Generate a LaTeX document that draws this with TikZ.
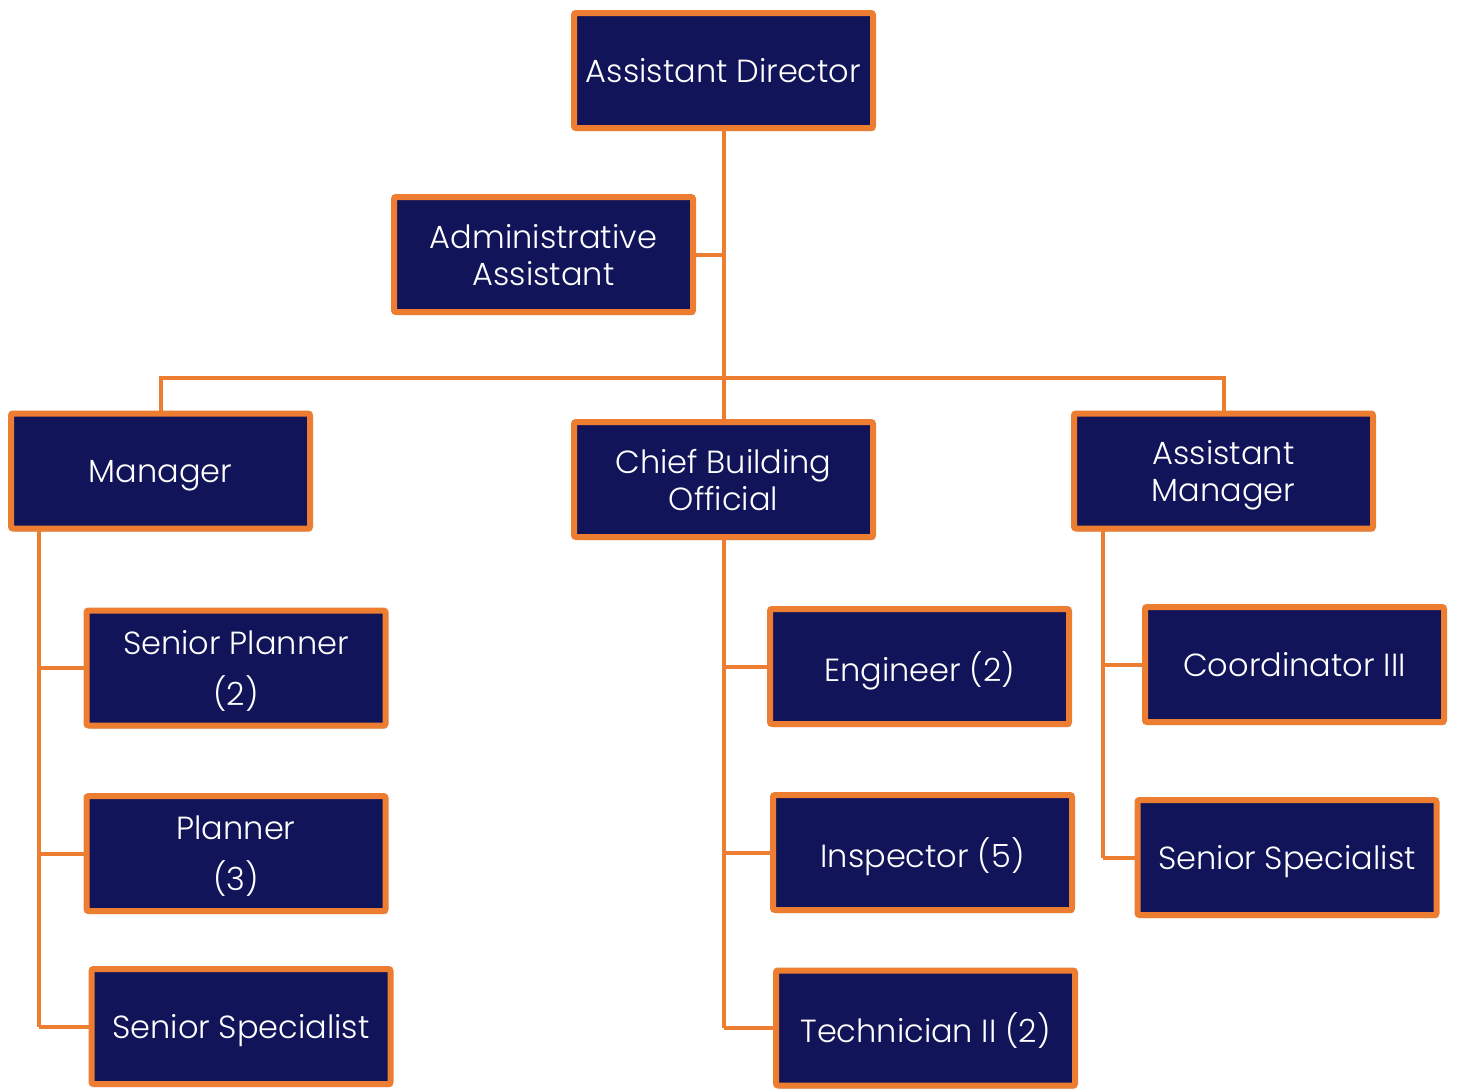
\documentclass[tikz,border=0pt]{standalone}
\usepackage{fontspec}
\setmainfont{Poppins}[UprightFont=* Light]
\usetikzlibrary{shadows}
\definecolor{navy}{HTML}{121459}
\definecolor{orangeline}{HTML}{ED7D31}
\begin{document}
\begin{tikzpicture}[x=0.5pt,y=-0.5pt,
  role/.style={draw=orangeline, line width=3pt, fill=navy, text=white,
    rounded corners=1pt,
    minimum width=149.5pt, minimum height=57.5pt, inner sep=0pt,
    text depth=0pt, align=center, font=\fontsize{16}{18.5}\selectfont,
    drop shadow={shadow xshift=1pt, shadow yshift=-1.5pt, opacity=0.25, fill=black}},
  tall/.style={font=\fontsize{16}{25.5}\selectfont},
  link/.style={draw=orangeline, line width=2pt}]
\useasboundingbox (0,0) rectangle (1457,1089);

% top of the chart
\node[role] (ad)  at (723.5,70.5)  {Assistant Director};
\node[role] (adm) at (543.5,254.5) {Administrative\\Assistant};

% second level
\node[role] (mgr) at (160.5,471)   {Manager};
\node[role] (cbo) at (723.5,479.5) {Chief Building\\Official};
\node[role] (am)  at (1223.5,471)  {Assistant\\Manager};

% under the manager
\node[role,tall] (sp)  at (236,668)    {Senior Planner\\(2)};
\node[role,tall] (pl)  at (236,853.5)  {Planner\\(3)};
\node[role]      (ss1) at (241,1026.5) {Senior Specialist};

% under the chief building official
\node[role] (eng) at (919.5,666.5) {Engineer (2)};
\node[role] (ins) at (922.5,852.5) {Inspector (5)};
\node[role] (tec) at (925.5,1028)  {Technician II (2)};

% under the assistant manager
\node[role] (coo) at (1294.5,664.5) {Coordinator III};
\node[role] (ss2) at (1287,857.5)   {Senior Specialist};

% trunk and branches
\coordinate (bar) at (723,378);
\draw[link] (ad.south) -- (cbo.north);
\draw[link] (adm.east) -- (adm.east -| ad.south);
\draw[link] (mgr.north) |- (bar) -| (am.north);

% manager's branch
\draw[link] (39,531) -- (39,1026.5);
\draw[link] (sp.west)  -- (sp.west -| 39,0);
\draw[link] (pl.west)  -- (pl.west -| 39,0);
\draw[link] (ss1.west) -- (ss1.west -| 39,0);

% chief building official's branch
\draw[link] (cbo.south) -- (cbo.south |- tec.west);
\draw[link] (eng.west) -- (eng.west -| cbo.south);
\draw[link] (ins.west) -- (ins.west -| cbo.south);
\draw[link] (tec.west) -- (tec.west -| cbo.south);

% assistant manager's branch
\draw[link] (1103,531) -- (1103,857.5);
\draw[link] (coo.west) -- (coo.west -| 1103,0);
\draw[link] (ss2.west) -- (ss2.west -| 1103,0);
\end{tikzpicture}
\end{document}
